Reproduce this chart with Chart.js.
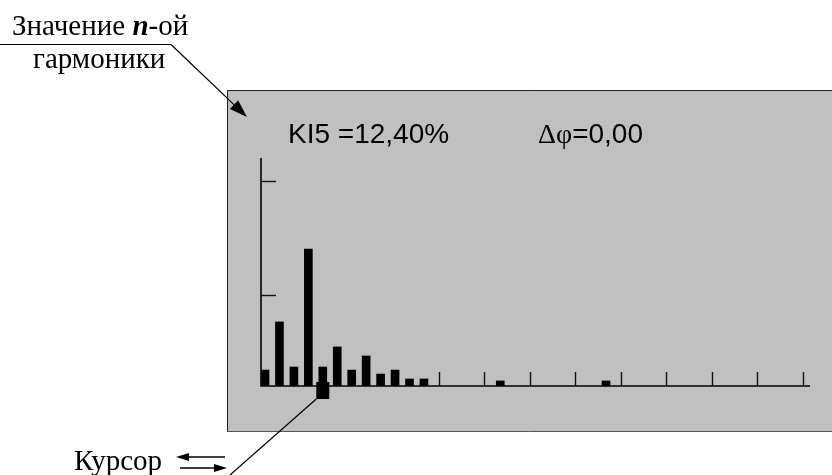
<!DOCTYPE html>
<html lang="ru">
<head>
    <meta charset="UTF-8">
    <title>Значение n-ой гармоники</title>
    <script src="https://cdn.jsdelivr.net/npm/chart.js"></script>
    <style>
        body {
            margin: 0;
            padding: 0;
            background-color: #fff;
        }
        #wrap {
            width: 832px;
            height: 475px;
        }
    </style>
</head>
<body>
    <div id="wrap">
        <canvas id="harm-chart" width="832" height="475"></canvas>
    </div>

    <script>
        // Номера гармоник (положение по оси) и их значения, %
        const harmonics = [1, 2, 3, 4, 5, 6, 7, 8, 9, 10, 11, 12, 17.28, 24.6];
        const values = [10.4, 41.8, 12.4, 89.4, 12.4, 25.5, 10.4, 19.6, 7.8, 10.4, 4.6, 4.6, 3.3, 3.3];
        // Метки делений
        const xTicks = [13.02, 16.17, 19.32, 22.47, 25.62, 28.77, 31.92, 35.07, 38.22];
        const yTicks = [59.4, 133.8];
        // Курсор и сдвиг фазы
        const cursorHarmonic = 5;
        const phaseShift = 0;

        const serif = '"Liberation Serif", "Times New Roman", serif';
        const sans = '"Liberation Sans", Arial, sans-serif';

        function fmt(v) {
            return v.toFixed(2).replace('.', ',');
        }

        function arrow(ctx, x1, y1, x2, y2, len, half) {
            const a = Math.atan2(y2 - y1, x2 - x1);
            ctx.beginPath();
            ctx.moveTo(x1, y1);
            ctx.lineTo(x2 - Math.cos(a) * len * 0.8, y2 - Math.sin(a) * len * 0.8);
            ctx.stroke();
            ctx.beginPath();
            ctx.moveTo(x2, y2);
            ctx.lineTo(x2 - Math.cos(a) * len - Math.sin(a) * half, y2 - Math.sin(a) * len + Math.cos(a) * half);
            ctx.lineTo(x2 - Math.cos(a) * len + Math.sin(a) * half, y2 - Math.sin(a) * len - Math.cos(a) * half);
            ctx.closePath();
            ctx.fill();
        }

        const screenPlugin = {
            id: 'screen',
            beforeDraw(chart) {
                const ctx = chart.ctx;
                ctx.save();
                ctx.fillStyle = '#fff';
                ctx.fillRect(0, 0, chart.width, chart.height);
                // серый экран прибора
                ctx.fillStyle = '#c0c0c0';
                ctx.fillRect(227, 90, 620, 341);
                ctx.lineWidth = 1;
                ctx.strokeStyle = '#222';
                ctx.beginPath();
                ctx.moveTo(227.5, 431);
                ctx.lineTo(227.5, 90.5);
                ctx.lineTo(832, 90.5);
                ctx.stroke();
                ctx.strokeStyle = '#555';
                ctx.beginPath();
                ctx.moveTo(227, 431.5);
                ctx.lineTo(832, 431.5);
                ctx.stroke();
                ctx.restore();
            },
            beforeDatasetsDraw(chart) {
                const ctx = chart.ctx;
                const area = chart.chartArea;
                const xs = chart.scales.x;
                const ys = chart.scales.y;
                ctx.save();
                ctx.strokeStyle = '#000';
                ctx.lineWidth = 1.6;
                // оси
                ctx.beginPath();
                ctx.moveTo(area.left, area.top);
                ctx.lineTo(area.left, area.bottom);
                ctx.lineTo(area.right, area.bottom);
                ctx.stroke();
                // деления
                ctx.lineWidth = 1.4;
                ctx.strokeStyle = '#111';
                xTicks.forEach(function(t) {
                    const px = Math.round(xs.getPixelForValue(t)) + 0.5;
                    ctx.beginPath();
                    ctx.moveTo(px, area.bottom);
                    ctx.lineTo(px, area.bottom - 14);
                    ctx.stroke();
                });
                yTicks.forEach(function(t) {
                    const py = Math.round(ys.getPixelForValue(t)) + 0.5;
                    ctx.beginPath();
                    ctx.moveTo(area.left, py);
                    ctx.lineTo(area.left + 15, py);
                    ctx.stroke();
                });
                ctx.restore();
            },
            afterDraw(chart) {
                const ctx = chart.ctx;
                const area = chart.chartArea;
                const xs = chart.scales.x;
                ctx.save();
                ctx.fillStyle = '#000';
                ctx.strokeStyle = '#000';

                // курсор
                const idx = harmonics.indexOf(cursorHarmonic);
                const cx = xs.getPixelForValue(cursorHarmonic);
                ctx.fillRect(cx - 6.5, area.bottom - 4, 13, 17);

                // заголовок экрана
                ctx.textBaseline = 'alphabetic';
                ctx.font = '28px ' + sans;
                ctx.fillText('KI' + cursorHarmonic + ' =' + fmt(values[idx]) + '%', 288, 143);
                ctx.font = '28px ' + serif;
                ctx.fillText('\u0394\u03c6', 538, 143);
                const w = ctx.measureText('\u0394\u03c6').width;
                ctx.font = '28px ' + sans;
                ctx.fillText('=' + fmt(phaseShift), 538 + w, 143);

                // подпись сверху
                let x = 12;
                ctx.font = '29px ' + serif;
                ctx.fillText('Значение ', x, 35);
                x += ctx.measureText('Значение ').width;
                ctx.font = 'italic bold 29px ' + serif;
                ctx.fillText('n', x, 35);
                x += ctx.measureText('n').width;
                ctx.font = '29px ' + serif;
                ctx.fillText('-ой', x, 35);
                ctx.fillText('гармоники', 33, 68);

                ctx.lineWidth = 1.2;
                ctx.beginPath();
                ctx.moveTo(0, 44.5);
                ctx.lineTo(171, 44.5);
                ctx.stroke();
                arrow(ctx, 171, 44.5, 247, 117, 18, 6);

                // подпись курсора
                ctx.font = '29px ' + serif;
                ctx.fillText('Курсор', 74, 470);
                ctx.lineWidth = 1.5;
                arrow(ctx, 225, 457, 176, 457, 13, 4);
                arrow(ctx, 180, 468, 227, 468, 13, 4);
                ctx.lineWidth = 1.2;
                ctx.beginPath();
                ctx.moveTo(cx - 6.5, area.bottom + 13);
                ctx.lineTo(230, 475);
                ctx.stroke();
                ctx.restore();
            }
        };

        new Chart(document.getElementById('harm-chart'), {
            type: 'bar',
            data: {
                datasets: [{
                    data: harmonics.map(function(h, i) { return { x: h, y: values[i] }; }),
                    backgroundColor: '#000',
                    borderWidth: 0,
                    barThickness: 8
                }]
            },
            options: {
                responsive: false,
                animation: false,
                devicePixelRatio: 1,
                layout: {
                    padding: { left: 261, right: 22, top: 158, bottom: 89 }
                },
                scales: {
                    x: { type: 'linear', min: 0.723, max: 38.716, offset: false, display: false },
                    y: { min: 0, max: 148.8, display: false }
                },
                plugins: {
                    legend: { display: false },
                    tooltip: { enabled: false }
                }
            },
            plugins: [screenPlugin]
        });
    </script>
</body>
</html>
